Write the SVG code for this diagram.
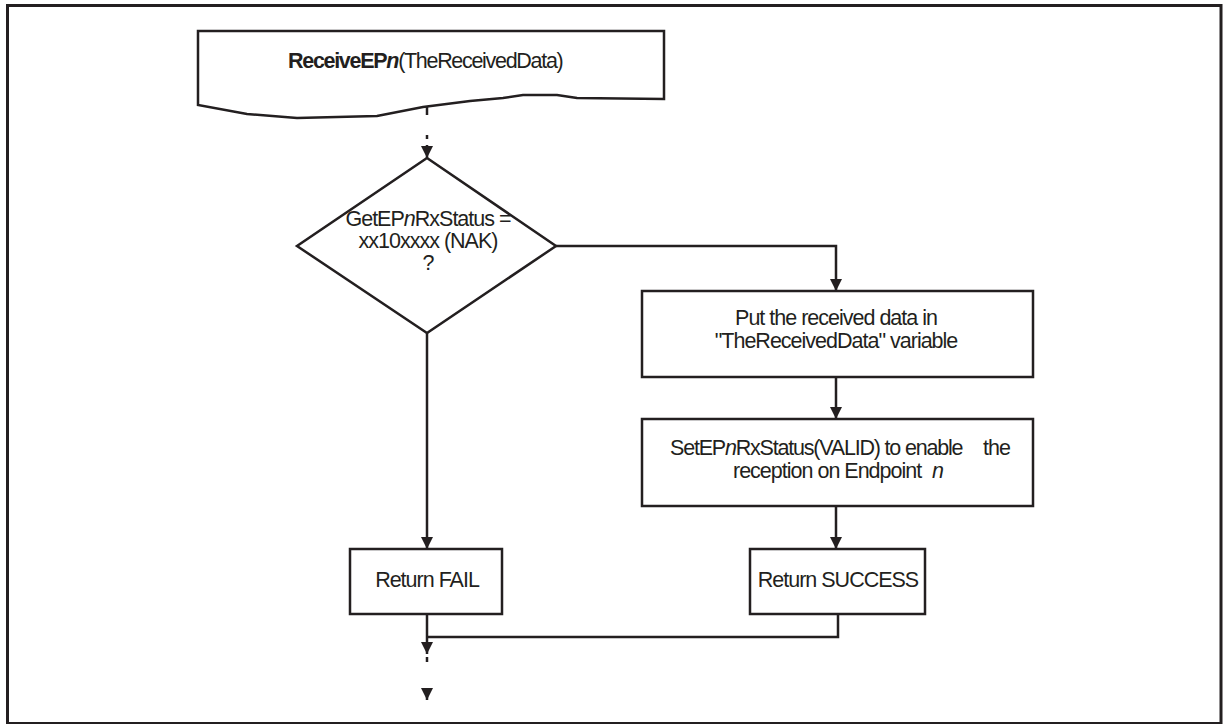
<svg xmlns="http://www.w3.org/2000/svg" width="1224" height="724" viewBox="0 0 1224 724">
<defs>
<style>
.ln{fill:none;stroke:#231f20;stroke-width:2.5}
.bx{fill:#fff;stroke:#231f20;stroke-width:2.5}
.t{font-family:"Liberation Sans",Arial,Helvetica,sans-serif;font-size:21.5px;fill:#231f20;letter-spacing:-1px}
.i{font-style:italic}
.b{font-weight:bold}
</style>
<marker id="ah" markerUnits="userSpaceOnUse" markerWidth="12" markerHeight="12" refX="12" refY="6" orient="auto">
<path d="M0,0 L12,6 L0,12 z" fill="#231f20"/>
</marker>
</defs>
<rect x="0" y="0" width="1224" height="724" fill="#fff"/>
<rect x="7.5" y="5.5" width="1213.5" height="718" fill="none" stroke="#231f20" stroke-width="3"/>

<g id="start">
<path class="bx" d="M198,31 H664 V99 L577,98 L557,95 L523,95 L503,98 L470,101 L423,107 L377,116 L297,118 L247,114 L198,105 Z"/>
<text class="t" x="288" y="68" style="letter-spacing:-1.3px"><tspan class="b">ReceiveEP</tspan><tspan class="b i">n</tspan>(TheReceivedData)</text>
</g>

<g id="decision">
<path class="bx" d="M427,158 L556,246 L427,333 L297,246 Z"/>
<text class="t" text-anchor="middle" x="428" y="226">GetEP<tspan class="i">n</tspan>RxStatus =</text>
<text class="t" text-anchor="middle" x="428" y="248">xx10xxxx (NAK)</text>
<text class="t" text-anchor="middle" x="428" y="270">?</text>
</g>

<g id="put">
<rect class="bx" x="642" y="291" width="391" height="86"/>
<text class="t" text-anchor="middle" x="836" y="325">Put the received data in</text>
<text class="t" text-anchor="middle" x="836" y="348">"TheReceivedData" variable</text>
</g>

<g id="set">
<rect class="bx" x="642" y="419" width="391" height="87"/>
<text class="t" x="670" y="455" style="letter-spacing:-1.2px">SetEP<tspan class="i">n</tspan>RxStatus(VALID) to enable</text>
<text class="t" x="983" y="455">the</text>
<text class="t" x="733" y="478">reception on Endpoint</text>
<text class="t i" x="932" y="478">n</text>
</g>

<g id="fail">
<rect class="bx" x="350" y="549" width="152" height="65"/>
<text class="t" text-anchor="middle" x="427" y="587">Return FAIL</text>
</g>

<g id="success">
<rect class="bx" x="750" y="549" width="175" height="65"/>
<text class="t" text-anchor="middle" x="838" y="587">Return SUCCESS</text>
</g>

<g id="connectors">
<line class="ln" x1="427" y1="107" x2="427" y2="115"/>
<line class="ln" x1="427" y1="135" x2="427" y2="139"/>
<line class="ln" x1="427" y1="145" x2="427" y2="158" marker-end="url(#ah)"/>
<path class="ln" d="M556,246 H836 V291" marker-end="url(#ah)"/>
<line class="ln" x1="427" y1="333" x2="427" y2="549" marker-end="url(#ah)"/>
<line class="ln" x1="836" y1="377" x2="836" y2="419" marker-end="url(#ah)"/>
<line class="ln" x1="836" y1="506" x2="836" y2="549" marker-end="url(#ah)"/>
<path class="ln" d="M838,614 V637 H427"/>
<line class="ln" x1="427" y1="614" x2="427" y2="654" marker-end="url(#ah)"/>
<line class="ln" x1="427" y1="657" x2="427" y2="662"/>
<line class="ln" x1="427" y1="688" x2="427" y2="700" marker-end="url(#ah)"/>
</g>
</svg>
